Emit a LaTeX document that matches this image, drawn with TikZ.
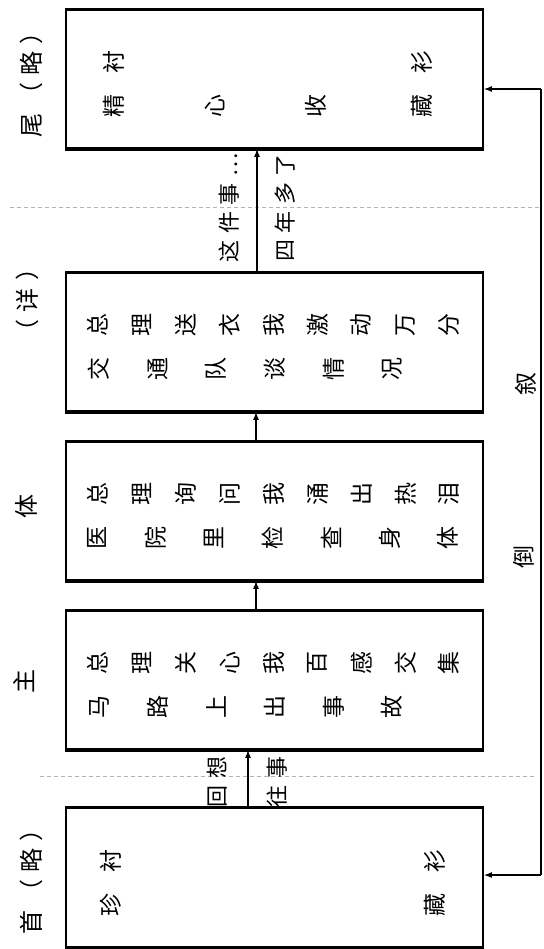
\documentclass[tikz,border=0pt]{standalone}
\usepackage{fontspec}
\usepackage{tikz}
\usetikzlibrary{arrows.meta}
\newfontfamily\cjk{Noto Sans CJK SC}
\newfontfamily\cjkspaced[LetterSpace=30]{Noto Sans CJK SC}

\begin{document}
\begin{tikzpicture}[x=0.5pt,y=-0.5pt,
  box/.style={draw,line width=0.9pt,minimum width=208.5pt,minimum height=69pt,inner sep=0pt},
  edge/.style={line width=1.6pt},
  ch/.style={font=\cjk\fontsize{11.5}{11.5}\selectfont,rotate=90,inner sep=0pt},
  lab/.style={font=\cjkspaced\fontsize{12}{12}\selectfont,rotate=90,inner sep=0pt},
  note/.style={font=\cjkspaced\fontsize{11}{11}\selectfont,rotate=90,inner sep=0pt},
  arr/.style={-{Latex[length=4pt,width=3pt]},line width=0.6pt},
  sep/.style={gray!60,line width=0.4pt,dash pattern=on 2pt off 1.5pt}]
% 倒叙结构示意图
\useasboundingbox (0,0) rectangle (544,949);

\draw[sep] (10,207) -- (540,207);
\draw[sep] (40,776) -- (535,776);

\node[box] (wei) at (274.5,79) {};
\node[box] (xiang) at (274.5,342) {};
\node[box] (ti) at (274.5,511) {};
\node[box] (zhu) at (274.5,680) {};
\node[box] (shou) at (274.5,877.5) {};
\foreach \b in {wei,xiang,ti,zhu,shou}
  \draw[edge] (\b.north west) -- (\b.north east) (\b.south west) -- (\b.south east);

\node[lab] (lab-wei) at (31,79) {尾（略）};
\node[lab] (lab-xiang) at (27,300) {（详）};
\node[lab] (lab-ti) at (26,506) {体};
\node[lab] (lab-zhu) at (24,681) {主};
\node[lab] (lab-shou) at (31,876) {首（略）};

% 尾
\node[ch] (wei-1) at (114,62) {衬};
\node[ch] (wei-2) at (422,62) {衫};
\foreach \c/\x [count=\i] in {精/114,心/215,收/316,藏/422}
  \node[ch] (wei-b\i) at (\x,106) {\c};

% 详
\foreach \c [count=\i from 0] in {总,理,送,衣,我,激,动,万,分}
  \node[ch] (xiang-a\i) at (98+43.9*\i,325) {\c};
\foreach \c [count=\i from 0] in {交,通,队,谈,情,况}
  \node[ch] (xiang-b\i) at (99+58.6*\i,369) {\c};

% 体
\foreach \c [count=\i from 0] in {总,理,询,问,我,涌,出,热,泪}
  \node[ch] (ti-a\i) at (98+43.9*\i,494) {\c};
\foreach \c [count=\i from 0] in {医,院,里,检,查,身,体}
  \node[ch] (ti-b\i) at (97+58.5*\i,538) {\c};

% 主
\foreach \c [count=\i from 0] in {总,理,关,心,我,百,感,交,集}
  \node[ch] (zhu-a\i) at (98+43.9*\i,663) {\c};
\foreach \c [count=\i from 0] in {马,路,上,出,事,故}
  \node[ch] (zhu-b\i) at (99+58.6*\i,707) {\c};

% 首
\node[ch] (shou-1) at (111,861) {衬};
\node[ch] (shou-2) at (435,861) {衫};
\node[ch] (shou-3) at (111,905) {珍};
\node[ch] (shou-4) at (435,905) {藏};

\draw[arr] ([xshift=-13.25pt]shou.north) -- ([xshift=-13.25pt]zhu.south);
\draw[arr] ([xshift=-9.25pt]zhu.north) -- ([xshift=-9.25pt]ti.south);
\draw[arr] ([xshift=-9.25pt]ti.north) -- ([xshift=-9.25pt]xiang.south);
\draw[arr] ([xshift=-8.75pt]xiang.north) -- ([xshift=-8.75pt]wei.south);

\node[note] (huixiang) at (217,782) {回想};
\node[note] (wangshi) at (277,782) {往事};
\node[note] (zhejian) at (229,208) {这件事⋯};
\node[note] (sinian) at (285,208) {四年多了};

\coordinate (fb-top) at (541,89);
\coordinate (fb-bot) at (541,875);
\draw[line width=0.6pt] (fb-top) -- (fb-bot);
\draw[arr] (fb-top) -- (wei.east |- fb-top);
\draw[arr] (fb-bot) -- (shou.east |- fb-bot);
\node[ch] (xu) at (526,384) {叙};
\node[ch] (dao) at (524,557) {倒};
\end{tikzpicture}
\end{document}
